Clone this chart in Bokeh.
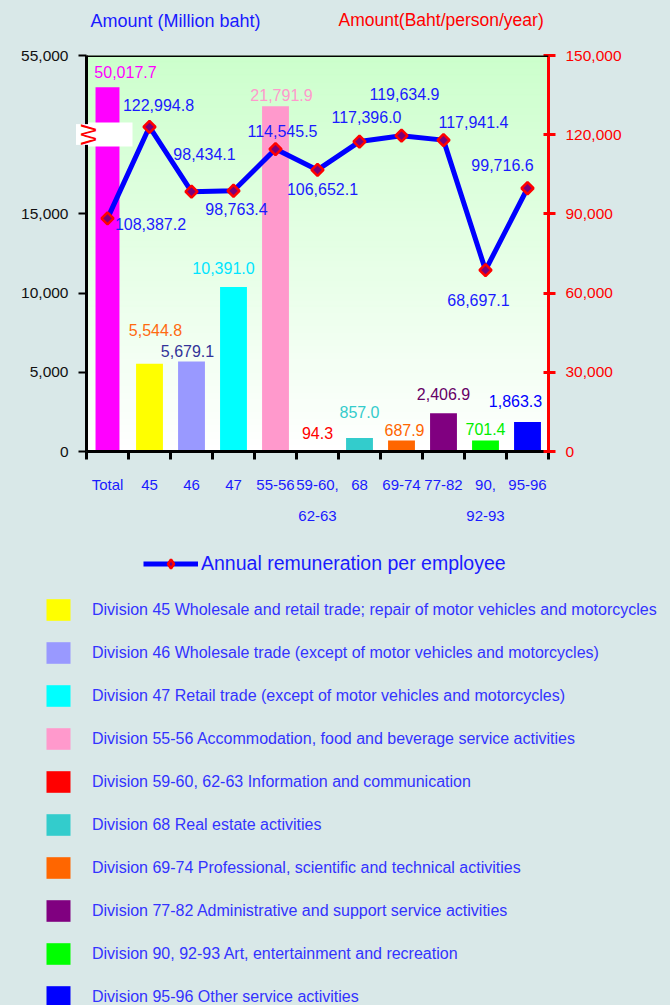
import math
from bokeh.plotting import figure
from bokeh.models import (ColumnDataSource, Range1d, LinearAxis, FixedTicker, LinearScale, Grid,
                          NumeralTickFormatter, Legend, LegendItem, Label, Span)
from bokeh.embed import file_html
from bokeh.resources import INLINE
from bokeh.core.properties import value

# ---------------- data ----------------
categories = ["Total", "45", "46", "47", "55-56", "59-60, 62-63", "68", "69-74", "77-82", "90, 92-93", "95-96"]
amount_million_baht = [50017.7, 5544.8, 5679.1, 10391.0, 21791.9, 94.3, 857.0, 687.9, 2406.9, 701.4, 1863.3]
remuneration_label_values = [108387.2, 122994.8, 98434.1, 98763.4, 114545.5, 106652.1,
                             117396.0, 119634.9, 117941.4, 68697.1, 99716.6]
# where the reference actually draws each marker (the Total marker sits at ~88,300)
remuneration_marker_values = [88300.0, 122994.8, 98434.1, 98763.4, 114545.5, 106652.1,
                              117396.0, 119634.9, 117941.4, 68697.1, 99716.6]
left_ticks = [0, 5000, 10000, 15000]
left_break_tick_label = "55,000"
right_ticks = [0, 30000, 60000, 90000, 120000, 150000]
division_names = [
    "Division 45 Wholesale and retail trade; repair of motor vehicles and motorcycles",
    "Division 46 Wholesale trade (except of motor vehicles and motorcycles)",
    "Division 47 Retail trade (except of motor vehicles and motorcycles)",
    "Division 55-56 Accommodation, food and beverage service activities",
    "Division 59-60, 62-63 Information and communication",
    "Division 68 Real estate activities",
    "Division 69-74 Professional, scientific and technical activities",
    "Division 77-82 Administrative and support service activities",
    "Division 90, 92-93 Art, entertainment and recreation",
    "Division 95-96 Other service activities",
]
line_series_name = "Annual remuneration per employee"
left_title = "Amount  (Million baht)"
right_title = "Amount(Baht/person/year)"

# ---------------- styles ----------------
PAGE_BG = "#d9e8e8"
BLUE_TEXT = "#1a1aff"
bar_colors = ["#ff00ff", "#ffff00", "#9999ff", "#00ffff", "#ff99cc", "#ff0000",
              "#33cccc", "#ff6600", "#800080", "#00ff00", "#0000ff"]
bar_label_colors = ["#ff00ff", "#ff6a10", "#333399", "#00e5ff", "#ff99cc", "#ff0000",
                    "#33cccc", "#ff6600", "#660066", "#00ee00", "#0000ff"]
bar_widths = [0.57, 0.64, 0.64, 0.64, 0.64, 0.64, 0.64, 0.64, 0.64, 0.64, 0.64]
bar_label_dx = [18, 6, -4, -10, 6, 0, 0, 3, 0, 0, -12]
bar_label_dy = [-15, -34, -11, -19, -11, -17, -26, -11, -19, -11, -21]
line_label_dx = [43, 9, 13, 3, 7, 5, 7, 3, 30, -7, -25]
line_label_dy = [6, -22, -38, 18, -18, 19, -25, -42, -18, 30, -23]

W, H = 670, 1005
H1 = 540                  # chart figure height; legend figure fills the rest
H2 = H - H1
FRAME_L, FRAME_R, FRAME_T, FRAME_B = 86, 548, 55, 451
LEFT_TOP = 25000          # top of the (broken) left axis, labelled 55,000
BREAK_DRAW = 23000        # height at which bars beyond the axis break are drawn
RIGHT_TOP = 150000
N = len(categories)
SLOT = (FRAME_R - FRAME_L) / N


def dxp(px):  # page pixel -> x units (one unit per category slot)
    return (px - FRAME_L) / SLOT


def dyp(py):  # page pixel -> left axis units
    return (FRAME_B - py) / (FRAME_B - FRAME_T) * LEFT_TOP


def hide_grids(fig):
    for r in fig.center:
        if isinstance(r, Grid):
            r.visible = False


# each category occupies one unit slot on the x scale; marks sit at slot centres
slot_centers = [i + 0.5 for i in range(N)]
shown = [v if v <= LEFT_TOP else BREAK_DRAW for v in amount_million_baht]

src = ColumnDataSource(dict(
    x=slot_centers,
    cat=categories,
    amount=amount_million_baht,
    shown=shown,
    color=bar_colors,
    width=bar_widths,
    bar_text=[f"{v:,.1f}" for v in amount_million_baht],
    bar_text_color=bar_label_colors,
    bar_dx=bar_label_dx,
    bar_dy=bar_label_dy,
    pay=remuneration_marker_values,
    pay_text=[f"{v:,.1f}" for v in remuneration_label_values],
    pay_dx=line_label_dx,
    pay_dy=line_label_dy,
))

# ======================= chart =======================
p = figure(width=W, height=H1, x_range=Range1d(0, N), y_range=Range1d(0, LEFT_TOP),
           output_backend="svg", toolbar_location=None,
           x_axis_location=None, y_axis_location=None,
           min_border_left=FRAME_L, min_border_right=W - FRAME_R,
           min_border_top=FRAME_T, min_border_bottom=H1 - FRAME_B,
           background_fill_color="#ffffff", border_fill_color=PAGE_BG)
p.outline_line_color = None
hide_grids(p)
p.extra_y_ranges = {"pay": Range1d(0, RIGHT_TOP)}
p.extra_y_scales = {"pay": LinearScale()}

# gradient background of plot area
n_strips = 60
edges = [LEFT_TOP * i / n_strips for i in range(n_strips + 1)]
strip_cols = []
for i in range(n_strips):
    t = (i + 0.5) / n_strips
    c = round(255 + (0xcc - 255) * t)
    strip_cols.append("#%02x%02x%02x" % (c, 255, c))
p.quad(left=0, right=N, bottom=edges[:-1], top=edges[1:], fill_color=strip_cols,
       line_color=strip_cols, line_width=1, level="underlay")

# bars
bars = p.vbar(x="x", top="shown", width="width", fill_color="color", line_color=None, source=src)

# axis-break patch inside the frame
p.quad(left=0, right=dxp(132), bottom=dyp(146), top=dyp(122), fill_color="white", line_color=None)

# line + markers
line_r = p.line(x="x", y="pay", y_range_name="pay", source=src, line_color="#0000ff",
                line_width=5, line_join="round")
mark_r = p.scatter(x="x", y="pay", y_range_name="pay", source=src, marker="square",
                   angle=math.pi / 4, size=8.5, fill_color="#7a007a", line_color="#ff0000",
                   line_width=2.5)

# value labels
p.text(x="x", y="shown", text="bar_text", source=src, x_offset="bar_dx", y_offset="bar_dy",
       text_color="bar_text_color", text_align="center", text_baseline="middle",
       text_font=value("Liberation Sans"), text_font_size="16px")
p.text(x="x", y="pay", y_range_name="pay", text="pay_text", source=src, x_offset="pay_dx",
       y_offset="pay_dy", text_color=BLUE_TEXT, text_align="center", text_baseline="middle",
       text_font=value("Liberation Sans"), text_font_size="16px")

# top border
p.add_layout(Span(location=LEFT_TOP, dimension="width", line_color="black", line_width=3))

# left axis
left_axis = LinearAxis(ticker=FixedTicker(ticks=left_ticks + [LEFT_TOP]),
                       formatter=NumeralTickFormatter(format="0,0"),
                       major_label_overrides={LEFT_TOP: left_break_tick_label},
                       axis_line_color="black", axis_line_width=3,
                       major_tick_line_color="black", major_tick_line_width=2,
                       major_tick_in=0, major_tick_out=8, minor_tick_line_color=None,
                       major_label_standoff=10, major_label_text_color="#111111",
                       major_label_text_font="Liberation Sans", major_label_text_font_size="15.5px")
p.add_layout(left_axis, "left")

# right axis
right_axis = LinearAxis(y_range_name="pay", ticker=FixedTicker(ticks=right_ticks),
                        formatter=NumeralTickFormatter(format="0,0"),
                        axis_line_color="#ff0000", axis_line_width=3,
                        major_tick_line_color="#ff0000", major_tick_line_width=3,
                        major_tick_in=5, major_tick_out=7, minor_tick_line_color=None,
                        major_label_standoff=10, major_label_text_color="#ff0000",
                        major_label_text_font="Liberation Sans", major_label_text_font_size="15.5px")
p.add_layout(right_axis, "right")

# bottom: boundary ticks between categories
slot_axis = LinearAxis(ticker=FixedTicker(ticks=list(range(N + 1))),
                       major_label_overrides={i: "" for i in range(N + 1)},
                       axis_line_color="black", axis_line_width=3,
                       major_tick_line_color="black", major_tick_line_width=3,
                       major_tick_in=0, major_tick_out=8, minor_tick_line_color=None,
                       major_label_standoff=0, major_label_text_font_size="2px")
p.add_layout(slot_axis, "below")

first_line = {}
second_line = {}
for c, cat in zip(slot_centers, categories):
    parts = cat.split(", ")
    first_line[c] = parts[0] + ("," if len(parts) > 1 else "")
    second_line[c] = parts[1] if len(parts) > 1 else ""

for overrides, standoff in ((first_line, 16), (second_line, 15)):
    ax = LinearAxis(ticker=FixedTicker(ticks=slot_centers),
                    major_label_overrides=overrides,
                    axis_line_color=None, major_tick_line_color=None, minor_tick_line_color=None,
                    major_tick_in=0, major_tick_out=0, major_label_standoff=standoff,
                    major_label_text_color=BLUE_TEXT, major_label_text_font="Liberation Sans",
                    major_label_text_font_size="15px")
    p.add_layout(ax, "below")

# axis titles (placed in the top panel so that they are not clipped by the frame)
p.add_layout(Label(x=dxp(90), y=dyp(20), text=left_title, text_align="left", text_baseline="middle",
                   text_color=BLUE_TEXT, text_font="Liberation Sans", text_font_size="18px"), "above")
p.add_layout(Label(x=dxp(338), y=dyp(19), text=right_title, text_align="left", text_baseline="middle",
                   text_color="#ff0000", text_font="Liberation Sans", text_font_size="17.5px"), "above")

# axis-break mark over the left axis (side panel so it is not clipped)
p.add_layout(Label(x=dxp(88), y=dyp(134), text="W", angle=math.pi / 2, text_align="center",
                   text_baseline="middle", text_color="#ff0000", text_font="Liberation Sans",
                   text_font_size="22px", background_fill_color="white"), "right")

# ======================= legend panel =======================
p2 = figure(width=W, height=H2, x_range=Range1d(0, N), y_range=Range1d(1e7, 2e7),
            output_backend="svg", toolbar_location=None,
            x_axis_location=None, y_axis_location=None,
            min_border=0, min_border_left=0, min_border_right=0,
            min_border_top=0, min_border_bottom=0,
            background_fill_color=PAGE_BG, border_fill_color=PAGE_BG)
p2.outline_line_color = None
hide_grids(p2)
p2.extra_y_ranges = {"pay": Range1d(1e7, 2e7)}
p2.extra_y_scales = {"pay": LinearScale()}
# same series, drawn outside this panel's view; they only feed the legend keys
bars2 = p2.vbar(x="x", top="shown", width="width", fill_color="color", line_color=None, source=src)
line2 = p2.line(x="x", y="pay", y_range_name="pay", source=src, line_color="#0000ff", line_width=5)
mark2 = p2.scatter(x="x", y="pay", y_range_name="pay", source=src, marker="diamond", size=13,
                   fill_color="#7a007a", line_color="#ff0000", line_width=2.5)

LEG_A_H = 23
leg_line = Legend(items=[LegendItem(label=line_series_name, renderers=[line2, mark2])],
                  location=(143, H2 - (563 - H1) - LEG_A_H / 2), orientation="vertical",
                  glyph_width=55, glyph_height=LEG_A_H, label_standoff=3, padding=0, margin=0,
                  border_line_color=None, background_fill_alpha=0,
                  label_text_color=BLUE_TEXT, label_text_font="Liberation Sans",
                  label_text_font_size="19.5px")
p2.add_layout(leg_line)

# area legend keys are inset by 10% on each side, so the key box is 30x27 for a 24x22 swatch
ITEM_H, GAP = 27, 16
leg_b_height = 10 * ITEM_H + 9 * GAP
leg_bars = Legend(items=[LegendItem(label=division_names[i - 1], renderers=[bars2], index=i)
                         for i in range(1, N)],
                  location=(43, H2 - (596 - H1) - leg_b_height), orientation="vertical",
                  glyph_width=30, glyph_height=ITEM_H, label_standoff=19, spacing=GAP,
                  padding=0, margin=0, border_line_color=None, background_fill_alpha=0,
                  label_text_color="#3333ff", label_text_font="Liberation Sans",
                  label_text_font_size="16px")
p2.add_layout(leg_bars)

html = file_html([p, p2], INLINE, title="Remuneration chart")
html = html.replace("</head>",
                    "<style>html,body{margin:0 !important;padding:0 !important;background:%s;"
                    "overflow:hidden;}body{display:flex !important;flex-direction:column;"
                    "align-items:flex-start;}</style></head>" % PAGE_BG, 1)
open("out.html", "w").write(html)
